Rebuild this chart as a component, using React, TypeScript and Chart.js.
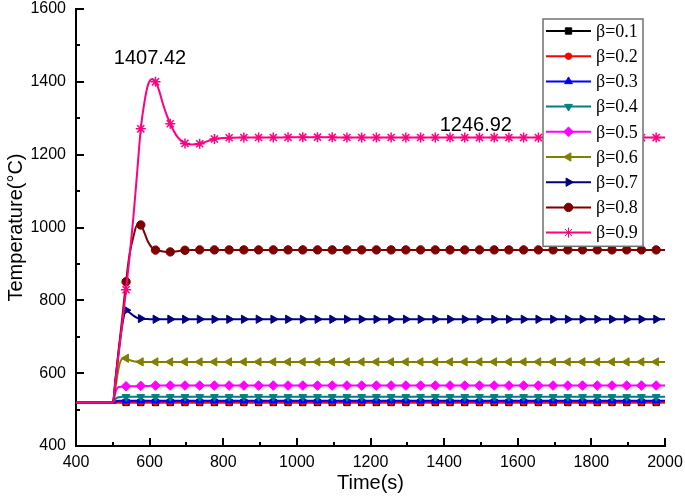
import React, { useEffect, useRef } from 'react';
import { Chart, registerables } from 'chart.js';
import { drawPoint } from 'chart.js/helpers';

Chart.register(...registerables);

// Time axis (s)
const times = [
  400, 500, 508, 516, 526, 536, 546, 556, 566, 576, 586, 596, 606, 616, 626, 636, 646, 656, 676, 696, 716, 736,
  776, 816, 856, 896, 936, 976, 1016, 1056, 1096, 1136, 1176, 1216, 1256, 1296, 1336, 1376, 1416, 1456, 1496,
  1536, 1576, 1616, 1656, 1696, 1736, 1776, 1816, 1856, 1896, 1936, 1976, 2000,
];

const beta01 = [
  519, 519, 519, 519.5, 519.5, 519.5, 519.5, 519.5, 519.5, 519.5, 519.5, 519.5, 519.5, 519.5, 519.5, 519.5, 519.5, 519.5, 519.5, 519.5, 519.5, 519.5,
  519.5, 519.5, 519.5, 519.5, 519.5, 519.5, 519.5, 519.5, 519.5, 519.5, 519.5, 519.5, 519.5, 519.5, 519.5, 519.5, 519.5, 519.5, 519.5,
  519.5, 519.5, 519.5, 519.5, 519.5, 519.5, 519.5, 519.5, 519.5, 519.5, 519.5, 519.5, 519.5,
];
const beta02 = [
  519, 519, 520.5, 521, 521, 521, 521, 521, 521, 521, 521, 521, 521, 521, 521, 521, 521, 521, 521, 521, 521, 521,
  521, 521, 521, 521, 521, 521, 521, 521, 521, 521, 521, 521, 521, 521, 521, 521, 521, 521, 521,
  521, 521, 521, 521, 521, 521, 521, 521, 521, 521, 521, 521, 521,
];
const beta03 = [
  519, 519, 523, 524.5, 524.5, 524.5, 524.5, 524.5, 524.5, 524.5, 524.5, 524.5, 524.5, 524.5, 524.5, 524.5, 524.5, 524.5, 524.5, 524.5, 524.5, 524.5,
  524.5, 524.5, 524.5, 524.5, 524.5, 524.5, 524.5, 524.5, 524.5, 524.5, 524.5, 524.5, 524.5, 524.5, 524.5, 524.5, 524.5, 524.5, 524.5,
  524.5, 524.5, 524.5, 524.5, 524.5, 524.5, 524.5, 524.5, 524.5, 524.5, 524.5, 524.5, 524.5,
];
const beta04 = [
  519, 519, 530, 534, 535, 535, 535, 535, 535, 535, 535, 535, 535, 535, 535, 535, 535, 535, 535, 535, 535, 535,
  535, 535, 535, 535, 535, 535, 535, 535, 535, 535, 535, 535, 535, 535, 535, 535, 535, 535, 535,
  535, 535, 535, 535, 535, 535, 535, 535, 535, 535, 535, 535, 535,
];
const beta05 = [
  519, 519, 550, 562, 563, 564, 564, 564, 564.5, 565, 565, 565, 565.5, 566, 566, 566, 566, 566, 566, 566, 566, 566,
  566, 566, 566, 566, 566, 566, 566, 566, 566, 566, 566, 566, 566, 566, 566, 566, 566, 566, 566,
  566, 566, 566, 566, 566, 566, 566, 566, 566, 566, 566, 566, 566,
];
const beta06 = [
  519, 519, 565, 615, 640, 641, 636, 633, 632, 631, 631, 631, 631, 631, 631, 631, 631, 631, 631, 631, 631, 631,
  631, 631, 631, 631, 631, 631, 631, 631, 631, 631, 631, 631, 631, 631, 631, 631, 631, 631, 631,
  631, 631, 631, 631, 631, 631, 631, 631, 631, 631, 631, 631, 631,
];
const beta07 = [
  519, 519, 590, 660, 735, 773, 766, 758, 752, 750, 749, 748.5, 748, 748, 748, 748, 748, 748, 748, 748, 748, 748,
  748, 748, 748, 748, 748, 748, 748, 748, 748, 748, 748, 748, 748, 748, 748, 748, 748, 748, 748,
  748, 748, 748, 748, 748, 748, 748, 748, 748, 748, 748, 748, 748,
];
const beta08 = [
  519, 519, 590, 665, 755, 851, 930, 975, 1007, 1007, 985, 960, 945, 938, 936, 934, 933, 933, 935, 937.5, 938, 938.5,
  938.5, 938.5, 938.5, 938.5, 938.5, 938.5, 938.5, 938.5, 938.5, 938.5, 938.5, 938.5, 938.5, 938.5, 938.5, 938.5, 938.5, 938.5, 938.5,
  938.5, 938.5, 938.5, 938.5, 938.5, 938.5, 938.5, 938.5, 938.5, 938.5, 938.5, 938.5, 938.5,
];
const beta09 = [
  519, 519, 585, 655, 740, 829, 925, 1030, 1150, 1271, 1345, 1393, 1407.42, 1400, 1375, 1340, 1310, 1285, 1248, 1231, 1228, 1230,
  1243, 1246.5, 1247, 1247, 1247, 1247.5, 1248, 1248, 1247.5, 1247, 1247, 1247, 1247, 1247, 1247, 1247, 1246.92, 1246.92, 1246.92,
  1246.92, 1246.92, 1246.92, 1246.92, 1246.92, 1246.92, 1246.92, 1246.92, 1246.92, 1246.92, 1246.92, 1246.92, 1246.92,
];

const seriesLabels = ['β=0.1', 'β=0.2', 'β=0.3', 'β=0.4', 'β=0.5', 'β=0.6', 'β=0.7', 'β=0.8', 'β=0.9'];
const seriesValues = [beta01, beta02, beta03, beta04, beta05, beta06, beta07, beta08, beta09];

const xTicks = [400, 600, 800, 1000, 1200, 1400, 1600, 1800, 2000];
const yTicks = [400, 600, 800, 1000, 1200, 1400, 1600];

const annotations = [
  { text: '1407.42', t: 601, v: 1463 },
  { text: '1246.92', t: 1486, v: 1279 },
];

const colors = ['#000000', '#FF0000', '#0000FF', '#008080', '#FF00FF', '#808000', '#000080', '#800000', '#FF0080'];
const pointStyles: any[] = ['rect', 'circle', 'triangle', 'triangle', 'rectRot', 'triangle', 'triangle', 'circle', 'star'];
const rotations = [0, 0, 0, 180, 0, 270, 90, 0, 0];
const radii = [4.5, 3.2, 4.5, 4.5, 4.8, 4.8, 4.8, 4.2, 5];

const MARK_START = 536;
const MARK_STEP = 40;
const MARK_END = 1976;
const isMarker = (t: number) => t >= MARK_START && t <= MARK_END && (t - MARK_START) % MARK_STEP === 0;

const SANS = '"Liberation Sans", Arial, sans-serif';
const SERIF = '"Liberation Serif", "Times New Roman", serif';

const ticksPlugin = {
  id: 'inwardTicks',
  afterDatasetsDraw(chart: any) {
    const { ctx, chartArea, scales } = chart;
    const x = scales.x;
    const y = scales.y;
    ctx.save();
    ctx.strokeStyle = '#000';
    ctx.lineWidth = 2;
    ctx.beginPath();
    for (let v = 500; v <= 2000; v += 100) {
      const px = Math.round(x.getPixelForValue(v));
      const len = v % 200 === 0 ? 8 : 4;
      ctx.moveTo(px, chartArea.bottom);
      ctx.lineTo(px, chartArea.bottom - len);
    }
    for (let v = 500; v <= 1600; v += 100) {
      const py = Math.round(y.getPixelForValue(v));
      const len = v % 200 === 0 ? 8 : 4;
      ctx.moveTo(chartArea.left, py);
      ctx.lineTo(chartArea.left + len, py);
    }
    ctx.stroke();
    ctx.restore();
  },
};

const annotationPlugin = {
  id: 'valueLabels',
  afterDatasetsDraw(chart: any) {
    const { ctx, scales } = chart;
    ctx.save();
    ctx.fillStyle = '#000';
    ctx.font = `20px ${SANS}`;
    ctx.textAlign = 'center';
    ctx.textBaseline = 'middle';
    annotations.forEach((a) => {
      ctx.fillText(a.text, scales.x.getPixelForValue(a.t), scales.y.getPixelForValue(a.v));
    });
    ctx.restore();
  },
};

const legendPlugin = {
  id: 'boxLegend',
  afterDraw(chart: any) {
    const { ctx, chartArea } = chart;
    const boxW = 100;
    const rowH = 25.2;
    const n = chart.data.datasets.length;
    const boxH = rowH * n + 0.5;
    const left = chartArea.right - 22 - boxW;
    const top = chartArea.top + 10;
    ctx.save();
    ctx.fillStyle = '#fff';
    ctx.fillRect(left, top, boxW, boxH);
    ctx.strokeStyle = '#707070';
    ctx.lineWidth = 1.5;
    ctx.strokeRect(left, top, boxW, boxH);
    chart.data.datasets.forEach((ds: any, i: number) => {
      const cy = top + 12 + rowH * i;
      ctx.strokeStyle = ds.borderColor;
      ctx.lineWidth = 2;
      ctx.beginPath();
      ctx.moveTo(left + 3, cy);
      ctx.lineTo(left + 48, cy);
      ctx.stroke();
      ctx.fillStyle = ds.pointBackgroundColor;
      ctx.strokeStyle = ds.pointBorderColor;
      ctx.lineWidth = 1;
      drawPoint(ctx, { pointStyle: ds.pointStyle, rotation: ds.pointRotation, radius: radii[i], borderWidth: ds.pointStyle === 'star' ? 1.5 : 1 }, left + 25.5, cy);
      ctx.fillStyle = '#000';
      ctx.font = `18px ${SERIF}`;
      ctx.textAlign = 'left';
      ctx.textBaseline = 'middle';
      ctx.fillText(ds.label, left + 53, cy + 1);
    });
    ctx.restore();
  },
};

export default function App() {
  const canvasRef = useRef<HTMLCanvasElement | null>(null);

  useEffect(() => {
    document.body.style.margin = '0';
    const canvas = canvasRef.current;
    if (!canvas) return;
    const n = seriesValues.length;
    const datasets = seriesValues.map((vals, i) => ({
      label: seriesLabels[i],
      data: vals.map((v, j) => ({ x: times[j], y: v })),
      order: n - 1 - i,
      borderColor: colors[i],
      backgroundColor: colors[i],
      pointBackgroundColor: colors[i],
      pointBorderColor: colors[i],
      pointStyle: pointStyles[i],
      pointRotation: rotations[i],
      pointBorderWidth: pointStyles[i] === 'star' ? 1.5 : 1,
      pointRadius: (c: any) => (isMarker(times[c.dataIndex]) ? radii[i] : 0),
      borderWidth: 2,
      tension: 0.35,
      cubicInterpolationMode: 'monotone' as const,
      fill: false,
    }));

    const chart = new Chart(canvas, {
      type: 'line',
      data: { datasets },
      plugins: [ticksPlugin, annotationPlugin, legendPlugin],
      options: {
        animation: false,
        responsive: true,
        maintainAspectRatio: false,
        events: [],
        layout: { padding: 0 },
        plugins: { legend: { display: false }, tooltip: { enabled: false } },
        scales: {
          x: {
            type: 'linear',
            min: 400,
            max: 2000,
            afterFit: (s: any) => { s.height = 53; s.paddingLeft = 0; s.paddingRight = 20; },
            afterBuildTicks: (s: any) => { s.ticks = xTicks.map((v) => ({ value: v })); },
            grid: { display: false, drawTicks: false },
            border: { display: true, color: '#000', width: 2 },
            ticks: { color: '#000', font: { family: SANS, size: 16 }, padding: 7, maxRotation: 0, callback: (v: any) => String(v) },
            title: { display: true, text: 'Time(s)', color: '#000', font: { family: SANS, size: 20 }, padding: 4 },
          },
          y: {
            type: 'linear',
            min: 400,
            max: 1600,
            afterFit: (s: any) => { s.width = 76; s.paddingTop = 9; s.paddingBottom = 0; },
            afterBuildTicks: (s: any) => { s.ticks = yTicks.map((v) => ({ value: v })); },
            grid: { display: false, drawTicks: false },
            border: { display: true, color: '#000', width: 2 },
            ticks: { color: '#000', font: { family: SANS, size: 16 }, padding: 10, callback: (v: any) => String(v) },
            title: { display: true, text: 'Temperature(°C)', color: '#000', font: { family: SANS, size: 20 }, padding: 4 },
          },
        },
      },
    });
    return () => chart.destroy();
  }, []);

  return (
    <div style={{ position: 'relative', width: 685, height: 499 }}>
      <canvas ref={canvasRef} />
    </div>
  );
}
